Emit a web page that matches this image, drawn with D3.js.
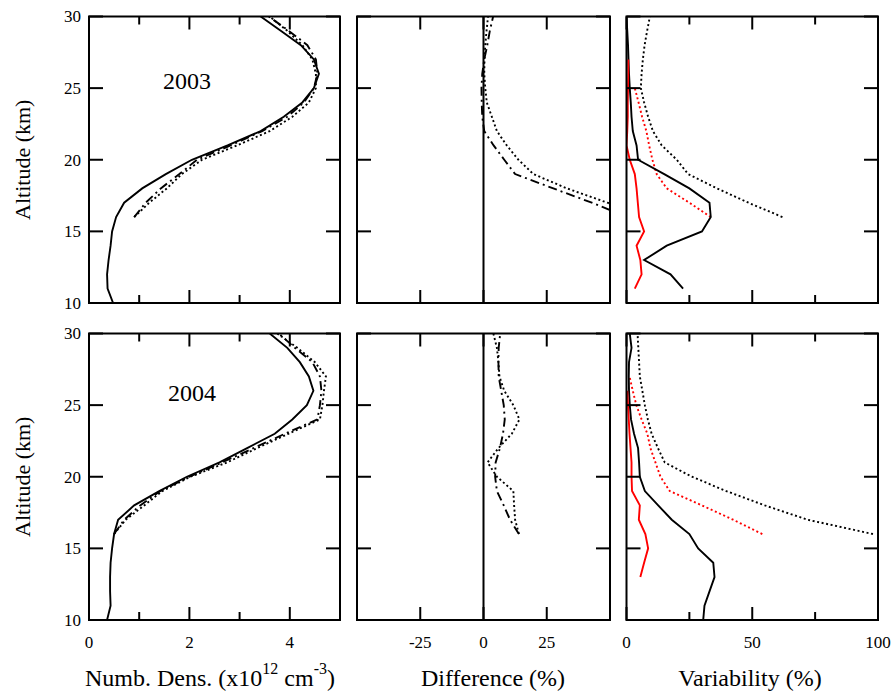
<!DOCTYPE html>
<html>
<head>
<meta charset="UTF-8">
<title>Altitude profiles 2003 / 2004</title>
<style>
    body { margin: 0; background: #fff; }
    .frame { fill: none; stroke: #000; stroke-width: 2px; }
    .tick { stroke: #000; stroke-width: 2px; }
    .line { fill: none; stroke-width: 1.9px; }
</style>
</head>
<body>
<script src="https://cdn.jsdelivr.net/npm/d3@7/dist/d3.min.js"></script>
<script>
    // altitude grids (km)
    var alt10 = d3.range(10, 31);          // 10..30
    var alt16 = d3.range(16, 31);          // 16..30
    var alt11 = d3.range(11, 31);          // 11..30

    // 2003 number density (x10^12 cm^-3)
    var nd03Solid = [0.48, 0.37, 0.36, 0.39, 0.43, 0.46, 0.54, 0.70, 1.06, 1.53, 2.05, 2.76, 3.42, 3.88, 4.25, 4.48, 4.58, 4.48, 4.22, 3.82, 3.42];
    var nd03DashDot = [0.9, 1.13, 1.43, 1.8, 2.15, 2.82, 3.45, 3.95, 4.28, 4.48, 4.55, 4.52, 4.35, 3.98, 3.58];
    var nd03Dot = [0.9, 1.2, 1.55, 1.85, 2.25, 2.95, 3.6, 4.05, 4.38, 4.52, 4.52, 4.45, 4.25, 3.95, 3.6];

    // 2003 difference (%)
    var diff03DashDot = [57, 42.8, 27.6, 12.5, 8.2, 4, 0.3, -0.5, -0.7, -0.8, -0.5, 0.3, 1.5, 2.5, 3.8];
    var diff03Dot = [65, 49, 33, 19.7, 13.8, 9.2, 5.3, 3.3, 1.3, 0.7, 0.3, 0.4, 0.7, 1.2, 1.8];

    // 2003 variability (%)
    var var03Solid = [22.5, 17.5, 7, 16, 30, 33.5, 33, 25, 15, 4.6, 4, 2.5, 2, 1.7, 1.3, 1, 0.8, 0.6, 0.3, 0];
    var alt03RedSolid = d3.range(11, 28);
    var var03RedSolid = [3.3, 6, 5.5, 4, 7, 5, 4.5, 4, 3.3, 1.3, 0, 0.3, 0.5, 0.5, 0.6, 0.7, 0.7];
    var var03Dot = [62, 48.5, 36, 24.5, 20, 14, 10.5, 8.6, 7, 5.7, 6, 6.5, 7.2, 8.2, 9.3];
    var alt03RedDot = d3.range(16, 26);
    var var03RedDot = [33.5, 25, 16, 12, 10.3, 9, 7.9, 6.2, 4.8, 3.3];

    // 2004 number density
    var nd04Solid = [0.36, 0.43, 0.42, 0.42, 0.43, 0.46, 0.5, 0.58, 0.9, 1.4, 1.95, 2.6, 3.15, 3.7, 4.05, 4.34, 4.47, 4.38, 4.2, 3.95, 3.6];
    var nd04DashDot = [0.5, 0.7, 1.02, 1.42, 2.0, 2.65, 3.28, 3.9, 4.55, 4.6, 4.63, 4.6, 4.45, 4.1, 3.78];
    var nd04Dot = [0.5, 0.73, 1.1, 1.46, 2.02, 2.75, 3.35, 3.97, 4.6, 4.65, 4.68, 4.72, 4.5, 4.15, 3.75];

    // 2004 difference
    var diff04DashDot = [14, 10.5, 8, 5.3, 4.6, 4.8, 6.5, 7.7, 8.4, 8, 7, 6, 5.9, 6, 6.6];
    var diff04Dot = [14, 12.5, 12.1, 11.8, 5.3, 1.6, 5.9, 11.2, 14.2, 11.8, 8.2, 6.3, 5.9, 5.3, 3.9];

    // 2004 variability
    var var04Solid = [30.5, 31, 33, 35, 34.5, 28.5, 25, 18, 12.6, 7.3, 5.3, 5, 4.6, 3, 1.8, 1.3, 1, 0.9, 1, 2, 1.3];
    var alt04RedSolid = d3.range(13, 27);
    var var04RedSolid = [5.5, 7, 8.6, 7.5, 4.9, 5.3, 2.2, 2, 2, 1.6, 1.2, 0.9, 0.6, 0.3];
    var var04Dot = [98, 72, 55, 39.7, 26, 15.2, 12.5, 10, 8.5, 7.3, 6.3, 5.3, 5, 4.7, 4.4];
    var alt04RedDot = d3.range(16, 28);
    var var04RedDot = [54, 42.4, 30, 17.2, 13.5, 11.5, 9.5, 8.3, 6, 3.9, 2.5, 1.2];

    var years = ["2003", "2004"];
    var yTicks = [10, 15, 20, 25, 30];
    var xTitles = ["Difference (%)", "Variability (%)"];

    var FONT = "'Liberation Serif', 'Times New Roman', Times, serif";
    var W = 894, H = 692;
    var colRanges = [[89, 340], [357, 610], [626.5, 878]];
    var rowRanges = [[303, 16.5], [620, 333.5]];

    var xDomains = [[0, 5], [-50, 50], [0, 100]];
    var majorTicks = [[0, 2, 4], [-25, 0, 25], [0, 50, 100]];
    var minorTicks = [[1, 3], [], [25, 75]];

    var styles = {
        solid: {color: "#000", dash: null},
        dashdot: {color: "#000", dash: "9,4,2,4"},
        dot: {color: "#000", dash: "2,2.6"},
        red: {color: "#ff0000", dash: null},
        reddot: {color: "#ff0000", dash: "2,2.6"}
    };

    var rows = [
        [
            [{x: nd03Solid, y: alt10, s: "solid"}, {x: nd03DashDot, y: alt16, s: "dashdot"}, {x: nd03Dot, y: alt16, s: "dot"}],
            [{x: diff03Dot, y: alt16, s: "dot"}, {x: diff03DashDot, y: alt16, s: "dashdot"}],
            [{x: var03Dot, y: alt16, s: "dot"}, {x: var03RedDot, y: alt03RedDot, s: "reddot"},
             {x: var03Solid, y: alt11, s: "solid"}, {x: var03RedSolid, y: alt03RedSolid, s: "red"}]
        ],
        [
            [{x: nd04Solid, y: alt10, s: "solid"}, {x: nd04DashDot, y: alt16, s: "dashdot"}, {x: nd04Dot, y: alt16, s: "dot"}],
            [{x: diff04Dot, y: alt16, s: "dot"}, {x: diff04DashDot, y: alt16, s: "dashdot"}],
            [{x: var04Dot, y: alt16, s: "dot"}, {x: var04RedDot, y: alt04RedDot, s: "reddot"},
             {x: var04Solid, y: alt10, s: "solid"}, {x: var04RedSolid, y: alt04RedSolid, s: "red"}]
        ]
    ];

    var svg = d3.select("body").append("svg")
        .attr("width", W)
        .attr("height", H)
        .attr("font-family", FONT);

    var defs = svg.append("defs");

    var xs = xDomains.map((d, i) => d3.scaleLinear().domain(d).range(colRanges[i]));
    var ys = rowRanges.map((r) => d3.scaleLinear().domain([10, 30]).range(r));

    rows.forEach(function(panels, ri) {
        var y = ys[ri];
        panels.forEach(function(series, ci) {
            var x = xs[ci];
            var g = svg.append("g");
            var clipId = "clip-" + ri + "-" + ci;

            defs.append("clipPath").attr("id", clipId)
                .append("rect")
                .attr("x", x.range()[0]).attr("y", y.range()[1])
                .attr("width", x.range()[1] - x.range()[0])
                .attr("height", y.range()[0] - y.range()[1]);

            var plot = g.append("g").attr("clip-path", `url(#${clipId})`);

            // zero reference in the difference panels
            if (ci === 1) {
                plot.append("line")
                    .attr("class", "tick")
                    .attr("x1", x(0)).attr("x2", x(0))
                    .attr("y1", y(10)).attr("y2", y(30));
            }

            series.forEach(function(sr) {
                var st = styles[sr.s];
                var pts = sr.x.map((v, k) => [v, sr.y[k]]);
                var line = d3.line()
                    .x((d) => x(d[0]))
                    .y((d) => y(d[1]));
                plot.append("path")
                    .datum(pts)
                    .attr("class", "line")
                    .attr("stroke", st.color)
                    .attr("stroke-dasharray", st.dash)
                    .attr("d", line);
            });

            // ticks, inward on all four sides
            var x0 = x.range()[0], x1 = x.range()[1];
            var yb = y.range()[0], yt = y.range()[1];
            var xt = majorTicks[ci].map((v) => ({v: v, len: 13}))
                .concat(minorTicks[ci].map((v) => ({v: v, len: 8})));
            g.selectAll(".xb").data(xt).enter().append("line")
                .attr("class", "tick")
                .attr("x1", (d) => x(d.v)).attr("x2", (d) => x(d.v))
                .attr("y1", yb).attr("y2", (d) => yb - d.len);
            g.selectAll(".xt").data(xt).enter().append("line")
                .attr("class", "tick")
                .attr("x1", (d) => x(d.v)).attr("x2", (d) => x(d.v))
                .attr("y1", yt).attr("y2", (d) => yt + d.len);
            g.selectAll(".yl").data(yTicks).enter().append("line")
                .attr("class", "tick")
                .attr("x1", x0).attr("x2", x0 + 14)
                .attr("y1", (d) => y(d)).attr("y2", (d) => y(d));
            g.selectAll(".yr").data(yTicks).enter().append("line")
                .attr("class", "tick")
                .attr("x1", x1).attr("x2", x1 - 14)
                .attr("y1", (d) => y(d)).attr("y2", (d) => y(d));

            g.append("rect")
                .attr("class", "frame")
                .attr("x", x0).attr("y", yt)
                .attr("width", x1 - x0).attr("height", yb - yt);

            if (ci === 0) {
                g.selectAll(".ylab").data(yTicks).enter().append("text")
                    .attr("x", x0 - 8)
                    .attr("y", (d) => y(d))
                    .attr("dy", "0.35em")
                    .attr("text-anchor", "end")
                    .attr("font-size", 17)
                    .text((d) => d);
            }
            if (ri === 1) {
                g.selectAll(".xlab").data(majorTicks[ci]).enter().append("text")
                    .attr("x", (d) => x(d))
                    .attr("y", 648)
                    .attr("text-anchor", "middle")
                    .attr("font-size", 17)
                    .text((d) => d);
            }
        });

        // year label
        svg.append("text")
            .attr("x", xs[0](ri === 0 ? 1.95 : 2.05))
            .attr("y", y(ri === 0 ? 24.95 : 25.3))
            .attr("text-anchor", "middle")
            .attr("font-size", 24)
            .text(years[ri]);

        // y title
        var yc = (y.range()[0] + y.range()[1]) / 2;
        svg.append("text")
            .attr("transform", `translate(30,${yc}) rotate(-90)`)
            .attr("text-anchor", "middle")
            .attr("font-size", 22)
            .text("Altitude (km)");
    });

    // x titles
    var t1 = svg.append("text")
        .attr("x", 210).attr("y", 686)
        .attr("text-anchor", "middle")
        .attr("font-size", 24);
    t1.append("tspan").text("Numb. Dens. (x10");
    t1.append("tspan").attr("dy", -12).attr("font-size", 16).text("12");
    t1.append("tspan").attr("dy", 12).text(" cm");
    t1.append("tspan").attr("dy", -12).attr("font-size", 16).text("-3");
    t1.append("tspan").attr("dy", 12).text(")");

    svg.append("text")
        .attr("x", 493).attr("y", 686)
        .attr("text-anchor", "middle")
        .attr("font-size", 24)
        .text(xTitles[0]);

    svg.append("text")
        .attr("x", 750).attr("y", 686)
        .attr("text-anchor", "middle")
        .attr("font-size", 24)
        .text(xTitles[1]);
</script>
</body>
</html>
